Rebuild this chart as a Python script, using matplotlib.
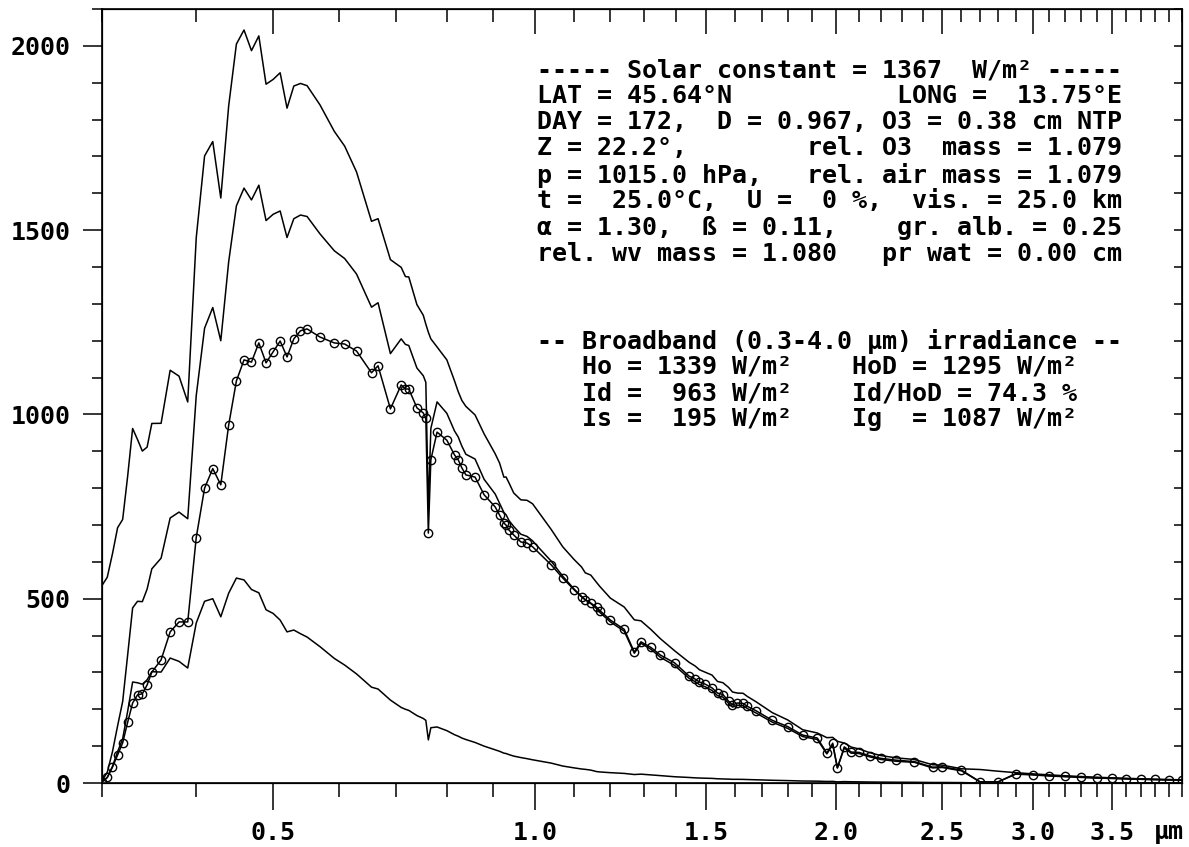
import numpy as np
import matplotlib.pyplot as plt

# SPCTRAL2 wavelength grid (um)
wavelength = [
    0.300, 0.305, 0.310, 0.315, 0.320, 0.325, 0.330, 0.335, 0.340, 0.345,
    0.350, 0.360, 0.370, 0.380, 0.390, 0.400, 0.410, 0.420, 0.430, 0.440,
    0.450, 0.460, 0.470, 0.480, 0.490, 0.500, 0.510, 0.520, 0.530, 0.540,
    0.550, 0.570, 0.593, 0.610, 0.630, 0.656, 0.6676, 0.690, 0.710, 0.718,
    0.7244, 0.740, 0.7525, 0.7575, 0.7625, 0.7675, 0.780, 0.800, 0.816, 0.8237,
    0.8315, 0.840, 0.860, 0.880, 0.905, 0.915, 0.925, 0.930, 0.937, 0.948,
    0.965, 0.980, 0.9935, 1.040, 1.070, 1.100, 1.120, 1.130, 1.145, 1.161,
    1.170, 1.200, 1.240, 1.270, 1.290, 1.320, 1.350, 1.395, 1.4425, 1.4625,
    1.477, 1.497, 1.520, 1.539, 1.558, 1.578, 1.592, 1.610, 1.630, 1.646,
    1.678, 1.740, 1.800, 1.860, 1.920, 1.960, 1.985, 2.005, 2.035, 2.065,
    2.100, 2.148, 2.198, 2.270, 2.360, 2.450, 2.500, 2.600, 2.700, 2.800,
    2.900, 3.000, 3.100, 3.200, 3.300, 3.400, 3.500, 3.600, 3.700, 3.800,
    3.900, 4.000,
]

# extraterrestrial spectrum (W/m2/um)
extraterrestrial = [
    535.9, 558.3, 622.0, 692.7, 715.1, 832.9, 961.9, 931.9, 900.6, 911.3,
    975.5, 975.9, 1119.9, 1103.8, 1033.8, 1479.1, 1701.3, 1740.4, 1587.2, 1837.0,
    2005.0, 2043.0, 1987.0, 2027.0, 1896.0, 1909.0, 1927.0, 1831.0, 1891.0, 1898.0,
    1892.0, 1840.0, 1768.0, 1728.0, 1658.0, 1524.0, 1531.0, 1420.0, 1399.0, 1374.0,
    1373.0, 1298.0, 1269.0, 1245.0, 1223.0, 1205.0, 1183.0, 1148.0, 1091.0, 1062.0,
    1038.0, 1022.0, 998.7, 947.2, 893.2, 868.2, 829.7, 830.3, 814.0, 786.9,
    768.3, 767.0, 757.6, 688.1, 640.7, 606.2, 585.9, 570.2, 564.1, 544.2,
    533.4, 501.6, 477.5, 442.7, 440.0, 416.8, 391.4, 358.9, 327.5, 317.5,
    307.3, 300.4, 292.8, 275.5, 272.1, 259.3, 246.9, 244.0, 243.5, 234.8,
    220.5, 190.8, 171.1, 144.5, 135.7, 123.0, 123.8, 113.0, 108.5, 97.5,
    92.4, 82.4, 74.6, 68.3, 63.8, 49.5, 48.5, 38.6, 36.6, 32.0,
    28.1, 24.8, 22.1, 19.6, 17.5, 15.7, 14.1, 12.7, 11.5, 10.4,
    9.5, 8.6,
]

# direct normal (circles)
direct_normal = [
    3, 15, 43, 76, 109, 165, 217, 239, 242, 266,
    301, 334, 410, 437, 437, 666, 800, 853, 809, 971,
    1091, 1148, 1142, 1194, 1140, 1170, 1199, 1156, 1205, 1227,
    1232, 1210, 1194, 1191, 1172, 1113, 1132, 1015, 1080, 1069,
    1069, 1018, 1004, 990, 678, 877, 952, 930, 890, 877,
    855, 836, 830, 782, 749, 727, 705, 700, 686, 673,
    654, 651, 641, 592, 556, 524, 505, 497, 488, 477,
    468, 442, 417, 355, 383, 368, 347, 326, 290, 282,
    274, 268, 258, 244, 240, 222, 212, 217, 216, 208,
    196, 170, 153, 130, 122, 81, 108, 41, 98, 84,
    83, 74, 67, 62, 58, 43, 44, 35, 3, 3,
    25, 23, 20, 18, 16, 14, 13, 11.6, 10.5, 9.5,
    8.7, 7.9,
]

# diffuse horizontal
diffuse = [
    3, 15, 45, 85, 120, 195, 274, 272, 268, 280,
    302, 301, 339, 330, 312, 434, 493, 500, 451, 515,
    556, 551, 525, 516, 470, 460, 442, 410, 415, 405,
    396, 370, 338, 320, 296, 260, 255, 225, 205, 200,
    197, 183, 175, 170, 117, 150, 152, 142, 131, 127,
    122, 118, 110, 100, 90, 86, 81, 80, 77, 73,
    69, 66, 63, 54, 46, 41, 38, 37, 35, 31,
    30, 28, 26, 23, 24, 22, 20, 17, 15, 14,
    13.5, 13, 12.5, 11.5, 11, 10.5, 10, 10, 9.8, 9.4,
    8.7, 7.4, 6.5, 5.4, 5.0, 4.2, 4.4, 3.0, 3.8, 3.3,
    3.1, 2.7, 2.4, 2.1, 1.9, 1.4, 1.4, 1.1, 0.1, 0.1,
    0.7, 0.6, 0.5, 0.45, 0.4, 0.35, 0.3, 0.28, 0.25, 0.22,
    0.2, 0.18,
]

# global horizontal
global_horiz = [
    6, 29, 85, 155, 221, 348, 475, 493, 492, 526,
    581, 610, 719, 735, 717, 1051, 1234, 1290, 1200, 1414,
    1566, 1614, 1582, 1622, 1526, 1543, 1552, 1480, 1531, 1541,
    1537, 1490, 1444, 1423, 1381, 1291, 1303, 1165, 1205, 1190,
    1187, 1126, 1105, 1087, 745, 962, 1034, 1003, 955, 939,
    914, 892, 879, 824, 784, 759, 734, 728, 712, 696,
    675, 669, 657, 602, 561, 526, 506, 497, 487, 473,
    463, 437, 412, 352, 379, 363, 341, 319, 284, 275,
    267, 261, 251, 237, 233, 216, 206, 211, 210, 202,
    190, 165, 148, 126, 118, 79, 104, 41, 95, 81,
    80, 71, 64, 59, 56, 41, 42, 33, 3, 3,
    24, 22, 19, 17, 15.2, 13.3, 12.3, 11, 10, 9,
    8.2, 7.5,
]

x_major = [0.5, 1.0, 1.5, 2.0, 2.5, 3.0, 3.5]
x_major_labels = ["0.5", "1.0", "1.5", "2.0", "2.5", "3.0", "3.5"]
x_minor = [round(0.3 + 0.1 * i, 1) for i in range(38)]
y_major = [0, 500, 1000, 1500, 2000]
y_minor = list(range(0, 2101, 100))

info_lines = [
    "----- Solar constant = 1367  W/m\u00b2 -----",
    "LAT = 45.64\u00b0N           LONG =  13.75\u00b0E",
    "DAY = 172,  D = 0.967, O3 = 0.38 cm NTP",
    "Z = 22.2\u00b0,        rel. O3  mass = 1.079",
    "p = 1015.0 hPa,   rel. air mass = 1.079",
    "t =  25.0\u00b0C,  U =  0 %,  vis. = 25.0 km",
    "\u03b1 = 1.30,  \u00df = 0.11,    gr. alb. = 0.25",
    "rel. wv mass = 1.080   pr wat = 0.00 cm",
]
info_y = [70, 96, 122, 148, 175, 201, 228, 254]

broadband_lines = [
    "-- Broadband (0.3-4.0 \u03bcm) irradiance --",
    "   Ho = 1339 W/m\u00b2    HoD = 1295 W/m\u00b2",
    "   Id =  963 W/m\u00b2    Id/HoD = 74.3 %",
    "   Is =  195 W/m\u00b2    Ig  = 1087 W/m\u00b2",
]
broadband_y = [341, 367, 393, 419]

plt.rcParams['font.family'] = ['DejaVu Sans Mono']
plt.rcParams['font.weight'] = 'bold'
plt.rcParams['font.size'] = 18


def fwd(x):
    return np.power(np.clip(x, 1e-9, None), 0.2)


def inv(x):
    return np.power(np.clip(x, 1e-9, None), 5.0)


W, H = 1189, 847
fig = plt.figure(figsize=(W / 100, H / 100), dpi=100)
ax = fig.add_axes([102 / W, (H - 783) / H, (1182 - 102) / W, (783 - 9) / H])

lw = 1.1
ax.plot(wavelength, extraterrestrial, color='black', lw=lw)
ax.plot(wavelength, global_horiz, color='black', lw=lw)
ax.plot(wavelength, diffuse, color='black', lw=lw)
ax.plot(wavelength, direct_normal, color='black', lw=lw, marker='o',
        markersize=6, markerfacecolor='none', markeredgewidth=1.0)

ax.set_xscale('function', functions=(fwd, inv))
ax.set_xlim(0.3, 4.0)
ax.set_ylim(0, 2100)

ax.set_xticks(x_major)
ax.set_xticklabels(x_major_labels)
ax.set_xticks([v for v in x_minor if v not in x_major], minor=True)
ax.set_yticks(y_major)
ax.set_yticklabels([str(v) for v in y_major])
ax.set_yticks([v for v in y_minor if v not in y_major], minor=True)

ax.tick_params(axis='x', which='major', direction='out', length=19.5, width=1.1, pad=8)
ax.tick_params(axis='x', which='minor', direction='out', length=10, width=1.1)
ax.tick_params(axis='y', which='major', direction='out', length=13.7, width=1.1, pad=9)
ax.tick_params(axis='y', which='minor', direction='out', length=7.2, width=1.1)
for sp in ax.spines.values():
    sp.set_linewidth(1.2)

# top axis: inward ticks on the same warped scale
top = ax.twiny()
top.set_xscale('function', functions=(fwd, inv))
top.set_xlim(0.3, 4.0)
top.set_xticks(x_major)
top.set_xticks([v for v in x_minor if v not in x_major], minor=True)
top.tick_params(axis='x', which='major', direction='in', length=18, width=1.1,
                labeltop=False)
top.tick_params(axis='x', which='minor', direction='in', length=9.4, width=1.1)

# right axis: short inward ticks
right = ax.twinx()
right.set_ylim(0, 2100)
right.set_yticks(y_minor)
right.tick_params(axis='y', which='major', direction='in', length=5.8, width=1.1,
                  labelright=False)

fig.text(1184 / W, 1 - 832 / H, "\u03bcm", ha='right', va='center')

for line, yp in zip(info_lines, info_y):
    fig.text(537 / W, 1 - yp / H, line, ha='left', va='center')
for line, yp in zip(broadband_lines, broadband_y):
    fig.text(537 / W, 1 - yp / H, line, ha='left', va='center')

fig.savefig('out.png', dpi=100, facecolor='white')
